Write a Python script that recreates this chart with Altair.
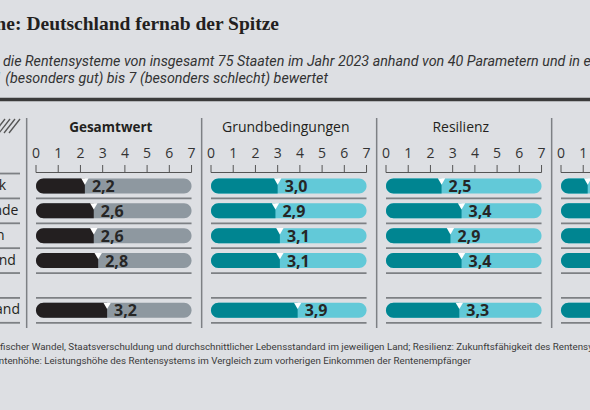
import altair as alt
import pandas as pd

# ---------------- data ----------------
title_text = "Rentensysteme: Deutschland fernab der Spitze"
subtitle_1 = "die Rentensysteme von insgesamt 75 Staaten im Jahr 2023 anhand von 40 Parametern und in einer Skala von"
subtitle_2 = "1 (besonders gut) bis 7 (besonders schlecht) bewertet"
footnote_1 = "fischer Wandel, Staatsverschuldung und durchschnittlicher Lebensstandard im jeweiligen Land; Resilienz: Zukunftsfähigkeit des Rentensystems"
footnote_2 = "Rentenhöhe: Leistungshöhe des Rentensystems im Vergleich zum vorherigen Einkommen der Rentenempfänger"

countries = ["Dänemark", "Niederlande", "Schweden", "Neuseeland", "Deutschland"]
panels = ["Gesamtwert", "Grundbedingungen", "Resilienz", "Rentenhöhe"]
gesamtwert = [2.2, 2.6, 2.6, 2.8, 3.2]
grundbedingungen = [3.0, 2.9, 3.1, 3.1, 3.9]
resilienz = [2.5, 3.4, 2.9, 3.4, 3.3]
rentenhoehe = [1.2, 1.9, 1.7, 2.0, 2.4]
scale_ticks = [0, 1, 2, 3, 4, 5, 6, 7]
scale_max = 7

# row order: top four, an empty spacer row, then Germany
row_order = countries[:4] + [""] + countries[4:]

# ---------------- layout ----------------
U = 22.22                 # px per score unit
PANEL_STEP = 175 / U      # panel spacing in score units
X0 = 36                   # pixel of panel-1 zero
ROW = 25.5                # px per row
Y0 = 185.5                # pixel of first row centre

xs = alt.Scale(domain=[-X0 / U, (590 - X0) / U], nice=False, zero=False)
ys = alt.Scale(domain=[-Y0 / ROW, (410 - Y0) / ROW], reverse=True, nice=False, zero=False)

BG = "#dddfe3"
INK = "#231f20"
DARK = {"Gesamtwert": "#231f20"}
LIGHT = {"Gesamtwert": "#8e98a0"}
TEAL_D = "#008591"
TEAL_L = "#62c9d8"

series = [gesamtwert, grundbedingungen, resilienz, rentenhoehe]
rows = []
for p, (pname, vals) in enumerate(zip(panels, series)):
    off = p * PANEL_STEP
    for c, v in zip(countries, vals):
        rows.append({
            "panel": pname, "country": c, "value": v,
            "slot": row_order.index(c),
            "x0": off, "xv": off + v, "xe": off + scale_max,
            "label": f"{v:.1f}".replace(".", ","),
            "dark": DARK.get(pname, TEAL_D), "light": LIGHT.get(pname, TEAL_L),
        })
bars = pd.DataFrame(rows)

tick_rows = []
for p, pname in enumerate(panels):
    for t in scale_ticks:
        tick_rows.append({"panel": pname, "t": t, "x": p * PANEL_STEP + t, "label": str(t)})
ticks_df = pd.DataFrame(tick_rows)

panel_df = pd.DataFrame({
    "panel": panels,
    "x0": [p * PANEL_STEP for p in range(len(panels))],
    "xe": [p * PANEL_STEP + scale_max for p in range(len(panels))],
    "xm": [p * PANEL_STEP + scale_max / 2 for p in range(len(panels))],
    "xsep": [p * PANEL_STEP - 0.42 for p in range(len(panels))],
    "bold": [p == 0 for p in range(len(panels))],
})

sep_rows = []
for p, pname in enumerate(panels):
    for s in range(len(row_order)):
        sep_rows.append({"x0": p * PANEL_STEP, "xe": p * PANEL_STEP + scale_max, "ys": s + 0.5})
seps = pd.DataFrame(sep_rows)
label_seps = pd.DataFrame({"ys": [s - 0.5 for s in range(len(row_order) + 1)]})
labels_df = pd.DataFrame({"country": countries, "slot": [row_order.index(c) for c in countries]})

# ---------------- layers ----------------
def txt(s):
    return pd.DataFrame({"t": [s]})

layers = []

# title / subtitle
layers.append(alt.Chart(txt(title_text)).mark_text(
    align="right", baseline="alphabetic", font="Liberation Serif", fontWeight="bold",
    fontSize=19.5, color=INK).encode(text="t:N", x=alt.value(279), y=alt.value(30)))
layers.append(alt.Chart(txt(subtitle_1)).mark_text(
    align="left", baseline="middle", font="Roboto", fontStyle="italic", fontSize=14.3,
    color="#333333").encode(text="t:N", x=alt.value(3), y=alt.value(62)))
layers.append(alt.Chart(txt(subtitle_2)).mark_text(
    align="left", baseline="middle", font="Roboto", fontStyle="italic", fontSize=14.3,
    color="#333333").encode(text="t:N", x=alt.value(-6), y=alt.value(79)))

# top heavy rule
layers.append(alt.Chart(txt("")).mark_rule(color="#3b3b3b", strokeWidth=3.5).encode(
    x=alt.value(0), x2=alt.value(590), y=alt.value(99.5)))

# hatch icon
for hx in [-6, -1, 4, 9]:
    layers.append(alt.Chart(txt("")).mark_rule(color="#555555", strokeWidth=1.3).encode(
        x=alt.value(hx), x2=alt.value(hx + 11), y=alt.value(133), y2=alt.value(119)))

# vertical separators
layers.append(alt.Chart(panel_df).mark_rule(color="#7d8084", strokeWidth=1.5).encode(
    x=alt.X("xsep:Q", scale=xs, axis=None), y=alt.value(118), y2=alt.value(328)))

# panel headers
layers.append(alt.Chart(panel_df[panel_df.bold]).mark_text(
    align="center", baseline="middle", font="Open Sans", fontWeight="bold", fontSize=13.5,
    color=INK, dx=-3).encode(text="panel:N", x=alt.X("xm:Q", scale=xs, axis=None), y=alt.value(128)))
layers.append(alt.Chart(panel_df[~panel_df.bold]).mark_text(
    align="center", baseline="middle", font="Open Sans", fontSize=14,
    color=INK, dx=-3).encode(text="panel:N", x=alt.X("xm:Q", scale=xs, axis=None), y=alt.value(128)))

# axis: labels, ticks, baseline
layers.append(alt.Chart(ticks_df).mark_text(
    align="center", baseline="middle", font="Open Sans", fontSize=14, color="#333333").encode(
    text="label:N", x=alt.X("x:Q", scale=xs, axis=None), y=alt.value(154)))
layers.append(alt.Chart(ticks_df).mark_rule(color="#555555", strokeWidth=1).encode(
    x=alt.X("x:Q", scale=xs, axis=None), y=alt.value(165), y2=alt.value(172.5)))
layers.append(alt.Chart(panel_df).mark_rule(color="#555555", strokeWidth=1).encode(
    x=alt.X("x0:Q", scale=xs, axis=None), x2="xe:Q", y=alt.value(172.5)))

# row separators
layers.append(alt.Chart(seps).mark_rule(color="#7d8084", strokeWidth=1.8).encode(
    x=alt.X("x0:Q", scale=xs, axis=None), x2="xe:Q", y=alt.Y("ys:Q", scale=ys, axis=None)))
layers.append(alt.Chart(label_seps).mark_rule(color="#7d8084", strokeWidth=1.8).encode(
    x=alt.value(0), x2=alt.value(20), y=alt.Y("ys:Q", scale=ys, axis=None)))

# country labels
layers.append(alt.Chart(labels_df).mark_text(
    align="left", baseline="middle", font="Open Sans", fontSize=14, color=INK).encode(
    text="country:N", x=alt.value(-62), y=alt.Y("slot:Q", scale=ys, axis=None)))

# bars
layers.append(alt.Chart(bars).mark_bar(orient="horizontal", size=15, cornerRadius=7.5).encode(
    x=alt.X("x0:Q", scale=xs, axis=None), x2="xe:Q",
    y=alt.Y("slot:Q", scale=ys, axis=None),
    color=alt.Color("light:N", scale=None, legend=None)))
layers.append(alt.Chart(bars).mark_bar(orient="horizontal", size=15,
                                       cornerRadiusTopLeft=7.5, cornerRadiusBottomLeft=7.5).encode(
    x=alt.X("x0:Q", scale=xs, axis=None), x2="xv:Q",
    y=alt.Y("slot:Q", scale=ys, axis=None),
    color=alt.Color("dark:N", scale=None, legend=None)))
layers.append(alt.Chart(bars).mark_point(shape="triangle-down", filled=True, color="white",
                                         opacity=1, size=55, strokeWidth=0, yOffset=-4.5).encode(
    x=alt.X("xv:Q", scale=xs, axis=None), y=alt.Y("slot:Q", scale=ys, axis=None)))
layers.append(alt.Chart(bars).mark_text(align="left", baseline="middle", dx=7, dy=1,
                                        font="Open Sans", fontWeight="bold", fontSize=16,
                                        color="#262626").encode(
    text="label:N", x=alt.X("xv:Q", scale=xs, axis=None), y=alt.Y("slot:Q", scale=ys, axis=None)))

# footnotes
layers.append(alt.Chart(txt(footnote_1)).mark_text(
    align="left", baseline="middle", font="Roboto", fontSize=9.75, color="#3a3a3a").encode(
    text="t:N", x=alt.value(0), y=alt.value(347)))
layers.append(alt.Chart(txt(footnote_2)).mark_text(
    align="right", baseline="middle", font="Roboto", fontSize=9.75, color="#3a3a3a").encode(
    text="t:N", x=alt.value(471), y=alt.value(361)))

chart = alt.layer(*layers).properties(
    width=590, height=410, padding=0, background=BG,
    autosize=alt.AutoSizeParams(type="none"),
).configure_view(stroke=None)

chart.save("out.html", embed_options={"renderer": "svg", "actions": False})
